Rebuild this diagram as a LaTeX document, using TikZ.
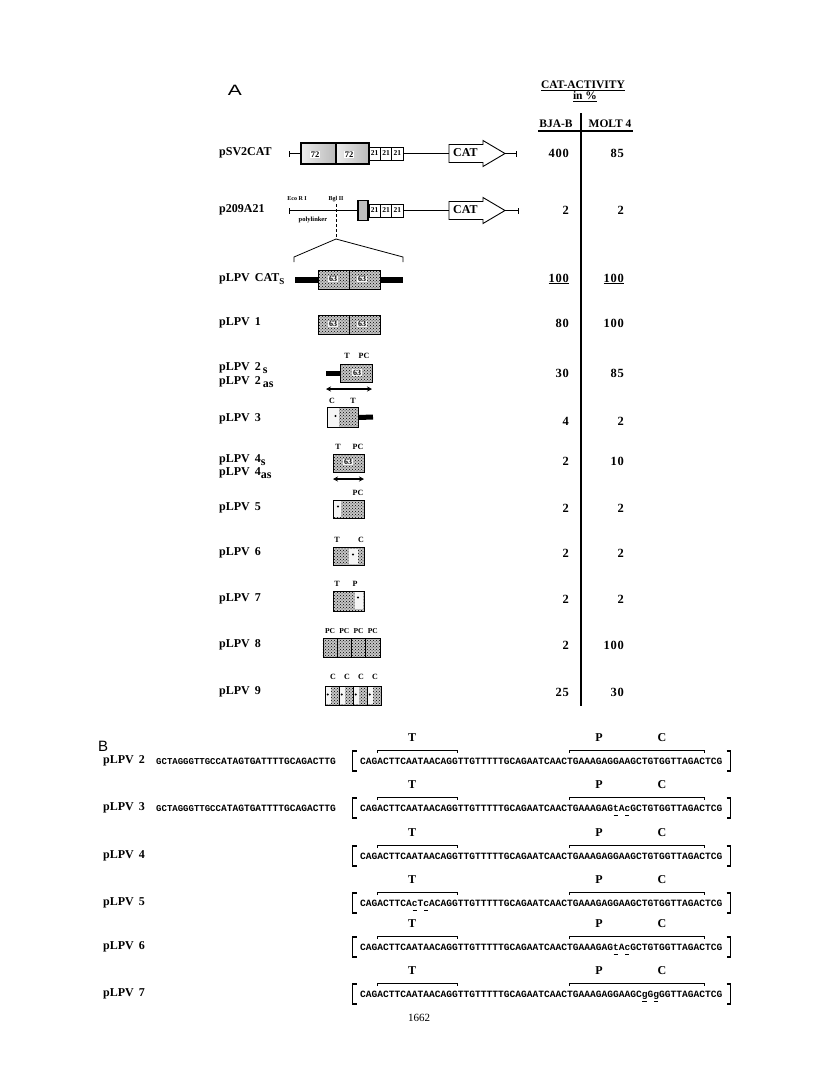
\documentclass[tikz,border=0pt]{standalone}
\usepackage{fontspec}
\setmainfont{Liberation Serif}
\newfontfamily\seqfont{Liberation Mono}
\newfontfamily\panelfont{Liberation Sans}
\newfontfamily\valfont[LetterSpace=6]{Liberation Serif}
\usetikzlibrary{patterns,arrows.meta,calc}
\newcommand\myfs[1]{\fontsize{#1}{#1}\selectfont}
\newcommand\lowr[1]{\raisebox{-3.5pt}{#1}}
\begin{document}
\begin{tikzpicture}[x=1pt,y=-1pt,
  lbl/.style={anchor=west,inner sep=0pt,font=\bfseries\myfs{12}},
  val/.style={anchor=east,inner sep=0pt,font=\valfont\bfseries\myfs{12.5}},
  hdr/.style={inner sep=0pt,font=\bfseries\myfs{11.5}},
  site/.style={inner sep=0pt,font=\bfseries\myfs{8}},
  tinytxt/.style={inner sep=0pt,font=\bfseries\myfs{6}},
  ln/.style={line width=0.8pt},
  hatch/.style={draw,line width=0.9pt,preaction={fill=gray!45},pattern=crosshatch dots,pattern color=black,inner sep=0pt},
  box72/.style={draw,line width=1.3pt,left color=gray!15,right color=gray!55,inner sep=0pt,minimum height=21pt},
  w72/.style={fill=white,inner sep=1pt,font=\bfseries\myfs{8.5}},
  box21/.style={draw,line width=0.8pt,fill=white,inner sep=0pt,minimum width=11.33pt,minimum height=13pt,font=\bfseries\myfs{7.5}},
  num63/.style={fill=gray!8,inner sep=0.6pt,font=\bfseries\myfs{8}},
  catarrow/.style={draw,line width=0.9pt,fill=white},
  dbl/.style={{Stealth[length=5pt,width=5pt]}-{Stealth[length=5pt,width=5pt]},line width=1.3pt},
  seqtxt/.style={anchor=base west,inner sep=0pt,font=\seqfont\bfseries\myfs{9.58}},
  ovl/.style={line width=0.9pt},
  brk/.style={line width=1.8pt},
  ul/.style={line width=1.3pt},
  bx/.style={inner sep=0pt,font=\bfseries\myfs{12}}]
\path[use as bounding box,fill=white] (0,0) rectangle (816,1077);

% ---------------- Panel A header ----------------
\node[inner sep=0pt,font=\panelfont\myfs{15}] (pA) at (235,90) {\scalebox{1.4}[1]{A}};
\node[hdr] (h1) at (583,86) {\underline{CAT-ACTIVITY}};
\node[hdr] (h2) at (585,97) {\underline{in \%}};
\node[hdr] (h3) at (556,124) {BJA-B};
\node[hdr] (h4) at (610,124) {MOLT 4};
\coordinate (hl) at (538,131);
\coordinate (hr) at (633,131);
\coordinate (vt) at (581,113);
\coordinate (vb) at (581,706);
\draw[line width=1.5pt] (hl) -- (hr);
\draw[line width=1.8pt] (vt) -- (vb);

% values
\foreach \n/\y in {0/153, 1/210, 2/279, 3/323, 4/373, 5/421, 6/461, 7/508, 8/553, 9/599, 10/645, 11/692}{
  \coordinate (vr\n) at (569,\y);
}
\foreach \n/\y/\a/\b in {0/153/400/85, 1/210/2/2, 2/279/{\underline{100}}/{\underline{100}}, 3/323/80/100,
  4/373/30/85, 5/421/4/2, 6/461/2/10, 7/508/2/2, 8/553/2/2, 9/599/2/2, 10/645/2/100, 11/692/25/30}{
  \node[val] (va\n) at (569,\y) {\a};
  \node[val] (vb\n) at (624,\y) {\b};
}

% row labels
\node[lbl] (L0) at (219,153) {pSV2CAT};
\node[lbl] (L1) at (219,210) {p209A21};
\node[lbl] (L2) at (219,279) {pLPV\hspace{5pt}CAT\lowr{\myfs{9}S}};
\node[lbl] (L3) at (219,323) {pLPV\hspace{5pt}1};
\node[lbl] (L4a) at (219,368) {pLPV\hspace{5pt}2\hspace{2pt}\lowr{s}};
\node[lbl] (L4b) at (219,382) {pLPV\hspace{5pt}2\hspace{2pt}\lowr{as}};
\node[lbl] (L5) at (219,419) {pLPV\hspace{5pt}3};
\node[lbl] (L6a) at (219,460) {pLPV\hspace{5pt}4\lowr{s}};
\node[lbl] (L6b) at (219,473) {pLPV\hspace{5pt}4\lowr{as}};
\node[lbl] (L7) at (219,508) {pLPV\hspace{5pt}5};
\node[lbl] (L8) at (219,553) {pLPV\hspace{5pt}6};
\node[lbl] (L9) at (219,599) {pLPV\hspace{5pt}7};
\node[lbl] (L10) at (219,645) {pLPV\hspace{5pt}8};
\node[lbl] (L11) at (219,692) {pLPV\hspace{5pt}9};

% ---------------- pSV2CAT ----------------
\coordinate (s0) at (289,153.5);
\node[box72,minimum width=35pt] (e72a) at (318.5,153.5) {};
\node[box72,minimum width=33pt] (e72b) at (352.5,153.5) {};
\node[w72] (t72a) at (315,154.5) {72};
\node[w72] (t72b) at (349,154.5) {72};
\node[box21] (sa1) at (374.7,153.5) {21};
\node[box21] (sa2) at (386,153.5) {21};
\node[box21] (sa3) at (397.3,153.5) {21};
\coordinate (cat0) at (449,153.5);
\coordinate (tip0) at (505,153.5);
\coordinate (end0) at (516,153.5);
\draw[ln] (s0) -- (e72a.west);
\draw[ln] ([yshift=-3pt]s0) -- ([yshift=3pt]s0);
\draw[ln] (sa3.east) -- (cat0);
\draw[catarrow] (cat0) -- ++(0,-9) -- ++(34,0) -- ++(0,-4) -- (tip0) -- ++(-22,13) -- ++(0,-4) -- ++(-34,0) -- cycle;
\node[anchor=west,inner sep=0pt,font=\bfseries\myfs{12}] (cattx0) at (453,152.5) {CAT};
\draw[ln] (tip0) -- (end0);
\draw[ln] ([yshift=-3pt]end0) -- ([yshift=3pt]end0);

% ---------------- p209A21 ----------------
\coordinate (s1) at (289,210.5);
\node[draw,line width=1.2pt,fill=gray!50,inner sep=0pt,minimum width=10pt,minimum height=20pt] (gb) at (363,210.5) {};
\node[box21] (sb1) at (374.7,210.5) {21};
\node[box21] (sb2) at (386,210.5) {21};
\node[box21] (sb3) at (397.3,210.5) {21};
\coordinate (cat1) at (449,210.5);
\coordinate (tip1) at (505,210.5);
\coordinate (end1) at (518,210.5);
\draw[ln] (s1) -- (gb.west);
\draw[ln] ([yshift=-3pt]s1) -- ([yshift=3pt]s1);
\draw[ln] (sb3.east) -- (cat1);
\draw[catarrow] (cat1) -- ++(0,-9) -- ++(34,0) -- ++(0,-4) -- (tip1) -- ++(-22,13) -- ++(0,-4) -- ++(-34,0) -- cycle;
\node[anchor=west,inner sep=0pt,font=\bfseries\myfs{12}] (cattx1) at (453,209.5) {CAT};
\draw[ln] (tip1) -- (end1);
\draw[ln] ([yshift=-3pt]end1) -- ([yshift=3pt]end1);
\node[tinytxt] (eco) at (297,199) {Eco R I};
\node[tinytxt] (bgl) at (336,199) {Bgl II};
\node[tinytxt,font=\bfseries\myfs{6.5}] (poly) at (313,219.5) {polylinker};
\coordinate (bglt) at (336,204);
\coordinate (apex) at (336,239);
\coordinate (expl) at (294,257);
\coordinate (expr) at (403,257);
\draw[ln,dash pattern=on 3pt off 2pt] (bglt) -- (apex);
\draw[ln] (expl) ++(0,5) -- (expl) -- (apex) -- (expr) -- ++(0,5);

% ---------------- pLPV CATs ----------------
\node[hatch,minimum width=31pt,minimum height=19pt] (c2a) at (333.5,279.5) {};
\node[hatch,minimum width=31pt,minimum height=19pt] (c2b) at (364.5,279.5) {};
\coordinate (bar2l) at (295,279.5);
\coordinate (bar2r) at (403,279.5);
\draw[line width=6pt] (bar2l) -- (c2a.west);
\draw[line width=6pt] (c2b.east) -- (bar2r);
\node[num63] (n2a) at (333,279) {63};
\node[num63] (n2b) at (362,279) {63};

% ---------------- pLPV 1 ----------------
\node[hatch,minimum width=31pt,minimum height=19pt] (c3a) at (333.5,324.5) {};
\node[hatch,minimum width=31pt,minimum height=19pt] (c3b) at (364.5,324.5) {};
\node[num63] (n3a) at (333,324) {63};
\node[num63] (n3b) at (362,324) {63};

% ---------------- pLPV 2 ----------------
\node[hatch,minimum width=32pt,minimum height=18pt] (c4) at (356,373) {};
\coordinate (bar4l) at (326,373);
\draw[line width=5pt] (bar4l) -- (c4.west);
\node[num63] (n4) at (357,372.5) {63};
\node[site] (t4T) at (347,356) {T};
\node[site] (t4P) at (364,356) {PC};
\coordinate (a4l) at (326,389);
\coordinate (a4r) at (372,389);
\draw[dbl] (a4l) -- (a4r);

% ---------------- pLPV 3 ----------------
\node[hatch,minimum width=31pt,minimum height=20pt] (c5) at (342.5,417.5) {};
\coordinate (bar5r) at (373,417);
\draw[line width=5pt] (c5.east) -- (bar5r);
\fill[gray!8] (327.8,408.3) rectangle (338.5,426.7);
\fill (335.5,416) circle (1.2pt);
\node[site] (t5C) at (332,401) {C};
\node[site] (t5T) at (353,401) {T};

% ---------------- pLPV 4 ----------------
\node[hatch,minimum width=31pt,minimum height=18pt] (c6) at (348.5,463) {};
\node[num63] (n6) at (348,462) {63};
\node[site] (t6T) at (338,447) {T};
\node[site] (t6P) at (358,447) {PC};
\coordinate (a6l) at (333,479);
\coordinate (a6r) at (364,479);
\draw[dbl] (a6l) -- (a6r);

% ---------------- pLPV 5 ----------------
\node[hatch,minimum width=31pt,minimum height=18pt] (c7) at (348.5,509) {};
\fill[gray!8] (333.6,500.6) rectangle (341,517.4);
\fill (338,506.5) circle (1.2pt);
\node[site] (t7P) at (358,493) {PC};

% ---------------- pLPV 6 ----------------
\node[hatch,minimum width=31pt,minimum height=18pt] (c8) at (348.5,556) {};
\fill[gray!8] (349,548.5) rectangle (357.5,563.5);
\fill (353,554.5) circle (1.2pt);
\node[site] (t8T) at (337,540) {T};
\node[site] (t8C) at (361,540) {C};

% ---------------- pLPV 7 ----------------
\node[hatch,minimum width=31pt,minimum height=20pt] (c9) at (348.5,601) {};
\fill[gray!8] (354.5,591.6) rectangle (363.4,609);
\fill (358,597.5) circle (1.2pt);
\node[site] (t9T) at (337,583.5) {T};
\node[site] (t9P) at (355,583.5) {P};

% ---------------- pLPV 8 ----------------
\foreach \i/\x in {1/330.1,2/344.4,3/358.6,4/372.9}{
  \node[hatch,minimum width=14.25pt,minimum height=19pt] (c10\i) at (\x,647.5) {};
  \node[site,font=\bfseries\myfs{7.5}] (t10\i) at (\x,631) {PC};
}

% ---------------- pLPV 9 ----------------
\foreach \i/\x in {1/325,2/339,3/353,4/367}{
  \node[hatch,minimum width=14pt,minimum height=19pt] (c11\i) at (\x+7,695.5) {};
  \fill[gray!8] (\x+0.6,686.6) rectangle (\x+5.5,704.4);
  \fill (\x+2.8,694.5) circle (1.1pt);
  \node[site] (t11\i) at (\x+8,677) {C};
}

% ---------------- Panel B ----------------
\node[anchor=west,inner sep=0pt,font=\panelfont\myfs{15}] (pB) at (98,746) {B};
\foreach \n/\y in {2/761,3/808,4/856,5/903,6/947,7/994}{
  \node[lbl] (BL\n) at (103,\y) {pLPV\hspace{5pt}\n};
  \node[bx] (BT\n) at (412,\y-23) {T};
  \node[bx] (BP\n) at (599,\y-23) {P};
  \node[bx] (BC\n) at (662,\y-23) {C};
  \draw[ovl] (377.2,\y-8) -- (377.2,\y-11) -- (457.7,\y-11) -- (457.7,\y-8);
  \draw[ovl] (569.8,\y-8) -- (569.8,\y-11) -- (704.8,\y-11) -- (704.8,\y-8);
  \draw[brk] (356.5,\y-10) -- (352.5,\y-10) -- (352.5,\y+10) -- (356.5,\y+10);
  \draw[brk] (726.5,\y-10) -- (730.5,\y-10) -- (730.5,\y+10) -- (726.5,\y+10);
}
\foreach \n/\y in {2/761,3/808}{
  \node[seqtxt] (BF\n) at (156,\y+3.5) {{\myfs{9}GCTAGGGTTGCC}ATAGTGATTTTGCAGACTTG};
}
\node[seqtxt] (BS2) at (360,764.5) {CAGACTTCAATAACAGGTTGTTTTTGCAGAATCAACTGAAAGAGGAAGCTGTGGTTAGACTCG};
\node[seqtxt] (BS3) at (360,811.5) {CAGACTTCAATAACAGGTTGTTTTTGCAGAATCAACTGAAAGAGtAcGCTGTGGTTAGACTCG};
\node[seqtxt] (BS4) at (360,859.5) {CAGACTTCAATAACAGGTTGTTTTTGCAGAATCAACTGAAAGAGGAAGCTGTGGTTAGACTCG};
\node[seqtxt] (BS5) at (360,906.5) {CAGACTTCAcTcACAGGTTGTTTTTGCAGAATCAACTGAAAGAGGAAGCTGTGGTTAGACTCG};
\node[seqtxt] (BS6) at (360,950.5) {CAGACTTCAATAACAGGTTGTTTTTGCAGAATCAACTGAAAGAGtAcGCTGTGGTTAGACTCG};
\node[seqtxt] (BS7) at (360,997.5) {CAGACTTCAATAACAGGTTGTTTTTGCAGAATCAACTGAAAGAGGAAGCgGgGGTTAGACTCG};
\foreach \s/\i in {3/44,3/46,5/9,5/11,6/44,6/46,7/49,7/51}{
  \draw[ul] ($(BS\s.base west)+(\i*5.746+0.8,3.8)$) -- ++(4.2,0);
}
\node[inner sep=0pt,font=\myfs{11}] (pg) at (419,1018) {1662};
\end{tikzpicture}
\end{document}
